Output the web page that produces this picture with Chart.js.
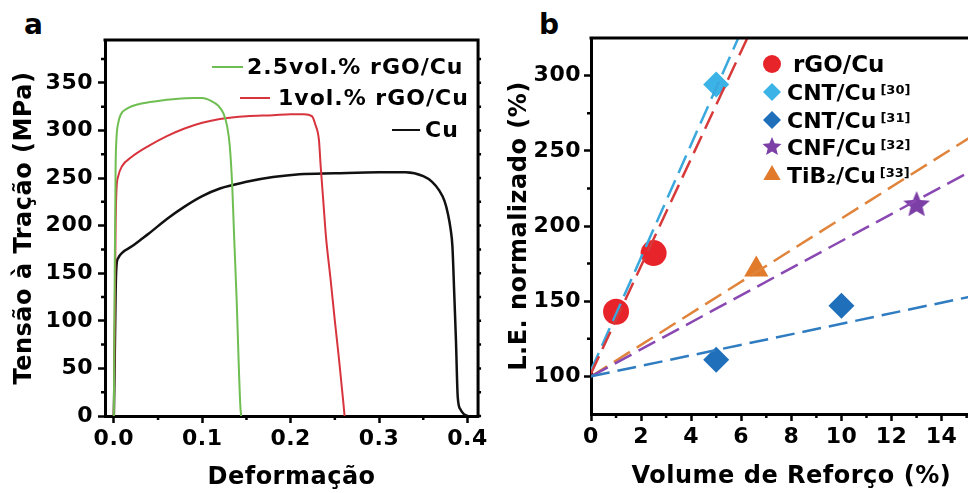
<!DOCTYPE html>
<html>
<head>
<meta charset="utf-8">
<script src="https://cdn.jsdelivr.net/npm/chart.js@4.4.1/dist/chart.umd.min.js"></script>
<style>
    html, body { margin: 0; padding: 0; background: #fff; overflow: hidden; }
    body { width: 968px; height: 493px; position: relative; }
    .panel { position: absolute; top: 0; height: 493px; }
    #panelA { left: 0; width: 490px; }
    #panelB { left: 490px; width: 520px; }
    .tag { position: absolute; font-family: 'DejaVu Sans'; font-weight: bold; font-size: 28px; color: #000; }
</style>
</head>
<body>
<div class="tag" style="left:24px;top:8px">a</div>
<div class="tag" style="left:539px;top:8px">b</div>
<div class="panel" id="panelA"><canvas id="chartA"></canvas></div>
<div class="panel" id="panelB"><canvas id="chartB"></canvas></div>
<script>
// ---- panel a: stress / strain curves ----
const strainTicks = [0, 0.1, 0.2, 0.3, 0.4];
const strainMinor = [0.05, 0.15, 0.25, 0.35];
const stressTicks = [0, 50, 100, 150, 200, 250, 300, 350];
const stressMinor = [25, 75, 125, 175, 225, 275, 325, 375];
const curveLabels = ['2.5vol.% rGO/Cu', '1vol.% rGO/Cu', 'Cu'];

const curve25 = [
    {x: 0, y: 0}, {x: 0.001, y: 150}, {x: 0.002, y: 262}, {x: 0.003, y: 292}, {x: 0.005, y: 308},
    {x: 0.008, y: 317}, {x: 0.015, y: 323}, {x: 0.03, y: 328}, {x: 0.05, y: 331}, {x: 0.07, y: 333},
    {x: 0.09, y: 334}, {x: 0.10, y: 334}, {x: 0.11, y: 331}, {x: 0.118, y: 326}, {x: 0.124, y: 318},
    {x: 0.128, y: 305}, {x: 0.131, y: 285}, {x: 0.134, y: 240}, {x: 0.136, y: 190}, {x: 0.139, y: 120},
    {x: 0.141, y: 62}, {x: 0.143, y: 12}, {x: 0.144, y: 0}
];
const curve1 = [
    {x: 0, y: 0}, {x: 0.001, y: 100}, {x: 0.002, y: 200}, {x: 0.003, y: 238}, {x: 0.005, y: 252},
    {x: 0.009, y: 262}, {x: 0.02, y: 272}, {x: 0.04, y: 284}, {x: 0.06, y: 294}, {x: 0.08, y: 302},
    {x: 0.10, y: 308}, {x: 0.12, y: 312}, {x: 0.15, y: 315}, {x: 0.18, y: 316}, {x: 0.20, y: 317},
    {x: 0.215, y: 317}, {x: 0.224, y: 315}, {x: 0.228, y: 306}, {x: 0.232, y: 290}, {x: 0.234, y: 262},
    {x: 0.237, y: 225}, {x: 0.240, y: 188}, {x: 0.245, y: 145}, {x: 0.250, y: 100}, {x: 0.255, y: 57},
    {x: 0.2595, y: 15}, {x: 0.261, y: 0}
];
const curveCu = [
    {x: 0, y: 0}, {x: 0.001, y: 60}, {x: 0.002, y: 130}, {x: 0.003, y: 158}, {x: 0.005, y: 166},
    {x: 0.01, y: 172}, {x: 0.02, y: 178}, {x: 0.03, y: 185}, {x: 0.04, y: 192}, {x: 0.06, y: 207},
    {x: 0.08, y: 220}, {x: 0.10, y: 231}, {x: 0.12, y: 239}, {x: 0.15, y: 246}, {x: 0.18, y: 251},
    {x: 0.21, y: 254}, {x: 0.25, y: 255}, {x: 0.30, y: 256}, {x: 0.33, y: 256}, {x: 0.35, y: 252},
    {x: 0.36, y: 246}, {x: 0.368, y: 237}, {x: 0.374, y: 226}, {x: 0.378, y: 212}, {x: 0.381, y: 196},
    {x: 0.383, y: 178}, {x: 0.385, y: 130}, {x: 0.387, y: 79}, {x: 0.389, y: 20}, {x: 0.392, y: 7},
    {x: 0.396, y: 2}, {x: 0.40, y: 0}
];

// ---- panel b: normalized yield strength vs reinforcement ----
const volumeTicks = [0, 2, 4, 6, 8, 10, 12, 14, 16];
const volumeMinor = [1, 3, 5, 7, 9, 11, 13, 15];
const leTicks = [100, 150, 200, 250, 300];
const leMinor = [125, 175, 225, 275];
const seriesLabels = ['rGO/Cu', 'CNT/Cu', 'CNT/Cu', 'CNF/Cu', 'TiB\u2082/Cu'];
const seriesRefs = ['', '[30]', '[31]', '[32]', '[33]'];

const rgoPoints = [{x: 1, y: 143}, {x: 2.5, y: 182}];
const cnt30Points = [{x: 5, y: 294}];
const cnt31Points = [{x: 5, y: 111}, {x: 10, y: 147}];
const cnfPoints = [{x: 13, y: 214}];
const tib2Points = [{x: 6.6, y: 171}];

const rgoFit = [{x: 0, y: 102}, {x: 7, y: 352}];
const cnt30Fit = [{x: 0, y: 104}, {x: 7, y: 367}];
const cnt31Fit = [{x: 0, y: 100}, {x: 16, y: 156}];
const cnfFit = [{x: 0, y: 100}, {x: 16, y: 244}];
const tib2Fit = [{x: 0, y: 100}, {x: 16, y: 268}];

Chart.defaults.font.family = "'DejaVu Sans', sans-serif";
Chart.defaults.font.weight = 'bold';
Chart.defaults.color = '#000';
Chart.defaults.animation = false;

function starCanvas(r, color) {
    const c = document.createElement('canvas');
    c.width = c.height = Math.ceil(r * 2) + 2;
    const g = c.getContext('2d');
    g.fillStyle = color;
    g.beginPath();
    for (let i = 0; i < 10; i++) {
        const ang = -Math.PI / 2 + i * Math.PI / 5;
        const rr = i % 2 ? r * 0.45 : r;
        g.lineTo(c.width / 2 + rr * Math.cos(ang), c.height / 2 + rr * Math.sin(ang));
    }
    g.closePath();
    g.fill();
    return c;
}

// the original lettering is a bit wider than DejaVu
const spacing = {
    id: 'spacing',
    beforeDraw(chart) { chart.ctx.letterSpacing = '0.5px'; }
};

// top / right border and the minor ticks
const frame = {
    id: 'frame',
    afterDraw(chart, args, opts) {
        const {ctx, chartArea: a, scales} = chart;
        ctx.save();
        ctx.strokeStyle = '#000';
        ctx.lineWidth = 3;
        ctx.beginPath();
        ctx.moveTo(a.left - 1.5, a.top);
        ctx.lineTo(a.right, a.top);
        if (opts.box) ctx.lineTo(a.right, a.bottom + 1.5);
        ctx.stroke();
        ctx.lineWidth = 2.5;
        ctx.beginPath();
        opts.xMinor.forEach(v => {
            const px = scales.x.getPixelForValue(v);
            ctx.moveTo(px, a.bottom); ctx.lineTo(px, a.bottom + 4);
        });
        opts.yMinor.forEach(v => {
            const py = scales.y.getPixelForValue(v);
            ctx.moveTo(a.left, py); ctx.lineTo(a.left - 4, py);
        });
        if (opts.box) {
            opts.yMajor.concat(opts.yMinor).forEach(v => {
                const py = scales.y.getPixelForValue(v);
                ctx.moveTo(a.right, py); ctx.lineTo(a.right + 3, py);
            });
        }
        ctx.stroke();
        ctx.restore();
    }
};

function fixedTicks(values) {
    return scale => { scale.ticks = values.map(v => ({value: v})); };
}

// legend of panel a: short line + label
const legendA = {
    id: 'legendA',
    afterDraw(chart, args, opts) {
        const ctx = chart.ctx;
        ctx.save();
        ctx.font = "bold 22px 'DejaVu Sans'";
        ctx.letterSpacing = '1px';
        ctx.textBaseline = 'middle';
        ctx.fillStyle = '#000';
        opts.rows.forEach((r, i) => {
            const ds = chart.data.datasets[i];
            ctx.strokeStyle = ds.borderColor;
            ctx.lineWidth = 2;
            ctx.beginPath();
            ctx.moveTo(r.x0, r.y); ctx.lineTo(r.x1, r.y);
            ctx.stroke();
            ctx.fillText(ds.label, r.tx, r.y + 1);
        });
        ctx.restore();
    }
};

// legend of panel b: marker + label + reference
const legendB = {
    id: 'legendB',
    afterDraw(chart, args, opts) {
        const ctx = chart.ctx;
        ctx.save();
        ctx.letterSpacing = '0px';
        ctx.textBaseline = 'alphabetic';
        opts.rows.forEach(r => {
            const ds = chart.data.datasets[r.index];
            ctx.fillStyle = ds.backgroundColor;
            Chart.helpers.drawPoint(ctx, {pointStyle: r.style || ds.pointStyle, radius: r.radius, rotation: 0, borderWidth: 0}, opts.markerX, r.y);
            ctx.fillStyle = '#000';
            ctx.font = "bold " + r.size + "px 'DejaVu Sans'";
            ctx.fillText(ds.label, r.tx, r.y + 8);
            const w = ctx.measureText(ds.label).width;
            if (ds.ref) {
                ctx.font = "bold 13px 'DejaVu Sans'";
                ctx.fillText(ds.ref, r.tx + w + 4, r.y + 2);
            }
        });
        ctx.restore();
    }
};

const tickFont = {size: 22, weight: 'bold'};
const titleFont = {size: 24, weight: 'bold', lineHeight: 1.2};
const gridOpts = {display: true, drawOnChartArea: false, drawTicks: true, tickLength: 7, tickWidth: 2.5, tickColor: '#000'};
const borderOpts = {display: true, color: '#000', width: 3};

new Chart(document.getElementById('chartA'), {
    type: 'line',
    data: {
        datasets: [
            {label: curveLabels[0], data: curve25, borderColor: '#6fbe52', borderWidth: 2},
            {label: curveLabels[1], data: curve1, borderColor: '#d8343e', borderWidth: 2},
            {label: curveLabels[2], data: curveCu, borderColor: '#111111', borderWidth: 2.5}
        ]
    },
    options: {
        responsive: true,
        maintainAspectRatio: false,
        elements: {point: {radius: 0}, line: {cubicInterpolationMode: 'monotone'}},
        layout: {padding: {top: 40, right: 2, left: 0, bottom: 0}},
        plugins: {
            legend: {display: false},
            tooltip: {enabled: false},
            frame: {box: true, xMinor: strainMinor, yMinor: stressMinor, yMajor: stressTicks},
            legendA: {rows: [
                {x0: 212, x1: 243, tx: 247, y: 67},
                {x0: 240, x1: 270, tx: 278, y: 98},
                {x0: 392, x1: 420, tx: 425, y: 130}
            ]}
        },
        scales: {
            x: {
                type: 'linear', min: -0.01, max: 0.412,
                afterBuildTicks: fixedTicks(strainTicks),
                afterFit: s => { s.height = 77; },
                ticks: {font: tickFont, padding: 3, callback: v => v.toFixed(1), maxRotation: 0, autoSkip: false},
                grid: gridOpts, border: borderOpts,
                title: {display: true, text: 'Deformação', font: titleFont, padding: {top: 0, bottom: 1}}
            },
            y: {
                type: 'linear', min: 0, max: 395,
                afterBuildTicks: fixedTicks(stressTicks),
                afterFit: s => { s.width = 105; },
                ticks: {font: tickFont, padding: 5, autoSkip: false},
                grid: gridOpts, border: borderOpts,
                title: {display: true, text: 'Tensão à Tração (MPa)', font: titleFont, padding: {top: 10, bottom: 0}}
            }
        }
    },
    plugins: [spacing, frame, legendA]
});

const star = starCanvas(14, '#7b3fa6');
const starSmall = starCanvas(10, '#7b3fa6');
const fitStyle = {type: 'line', borderWidth: 2.5, borderDash: [19, 8], pointRadius: 0, fill: false, order: 0};

new Chart(document.getElementById('chartB'), {
    type: 'scatter',
    data: {
        datasets: [
            {label: seriesLabels[0], ref: seriesRefs[0], data: rgoPoints, backgroundColor: '#e8242b', pointStyle: 'circle', pointRadius: 13, order: 1},
            {label: seriesLabels[1], ref: seriesRefs[1], data: cnt30Points, backgroundColor: '#3bb3e6', pointStyle: 'rectRot', pointRadius: 13, order: 1},
            {label: seriesLabels[2], ref: seriesRefs[2], data: cnt31Points, backgroundColor: '#1f6fbb', pointStyle: 'rectRot', pointRadius: 13, order: 1},
            {label: seriesLabels[3], ref: seriesRefs[3], data: cnfPoints, backgroundColor: '#7b3fa6', pointStyle: star, pointRadius: 14, order: 1},
            {label: seriesLabels[4], ref: seriesRefs[4], data: tib2Points, backgroundColor: '#e27a2b', pointStyle: 'triangle', pointRadius: 14, order: 1},
            Object.assign({data: rgoFit, borderColor: '#d63a3a'}, fitStyle),
            Object.assign({data: cnt30Fit, borderColor: '#3aa8dc'}, fitStyle),
            Object.assign({data: cnt31Fit, borderColor: '#2f7cc0'}, fitStyle),
            Object.assign({data: cnfFit, borderColor: '#8a48b2'}, fitStyle),
            Object.assign({data: tib2Fit, borderColor: '#e0843c'}, fitStyle)
        ]
    },
    options: {
        responsive: true,
        maintainAspectRatio: false,
        elements: {point: {borderWidth: 0, hoverRadius: 0}},
        layout: {padding: {top: 38, right: 13, left: 0, bottom: 0}},
        plugins: {
            legend: {display: false},
            tooltip: {enabled: false},
            frame: {box: false, xMinor: volumeMinor, yMinor: leMinor, yMajor: leTicks},
            legendB: {markerX: 282, rows: [
                {index: 0, y: 64, tx: 303, size: 23, radius: 9},
                {index: 1, y: 92, tx: 297, size: 22, radius: 9},
                {index: 2, y: 120, tx: 297, size: 22, radius: 9},
                {index: 3, y: 147, tx: 297, size: 22, radius: 9, style: starSmall},
                {index: 4, y: 175, tx: 297, size: 22, radius: 10}
            ]}
        },
        scales: {
            x: {
                type: 'linear', min: 0, max: 16,
                afterBuildTicks: fixedTicks(volumeTicks),
                afterFit: s => { s.height = 79; },
                ticks: {font: tickFont, padding: 3, maxRotation: 0, autoSkip: false},
                grid: gridOpts, border: borderOpts,
                title: {display: true, text: 'Volume de Reforço (%)', font: titleFont, padding: {top: 0, bottom: 2}}
            },
            y: {
                type: 'linear', min: 75, max: 325,
                afterBuildTicks: fixedTicks(leTicks),
                afterFit: s => { s.width = 101; },
                ticks: {font: tickFont, padding: 3, autoSkip: false},
                grid: gridOpts, border: borderOpts,
                title: {display: true, text: 'L.E. normalizado (%)', font: titleFont, padding: {top: 15, bottom: 0}}
            }
        }
    },
    plugins: [spacing, frame, legendB]
});
</script>
</body>
</html>
